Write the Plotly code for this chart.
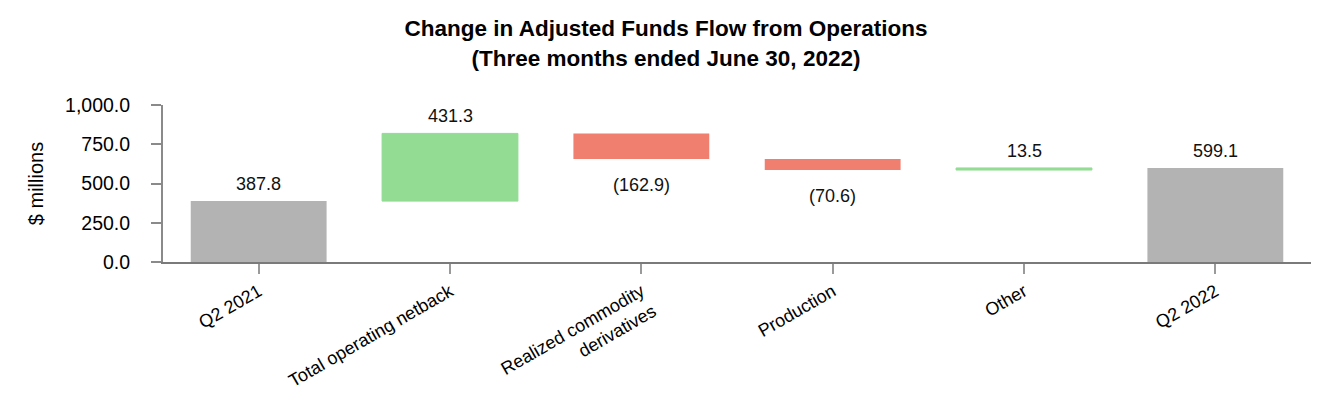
import plotly.graph_objects as go

categories = ["Q2 2021", "Total operating netback", "Realized commodity<br>derivatives",
              "Production", "Other", "Q2 2022"]
values = [387.8, 431.3, -162.9, -70.6, 13.5, 599.1]
measures = ["absolute", "relative", "relative", "relative", "relative", "total"]
y_ticks = [0, 250, 500, 750, 1000]

GRAY = "#b3b3b3"
GREEN = "#92dc94"
RED = "#f07f6f"
FONT = "Liberation Sans, Arial, sans-serif"


def fmt(v):
    return f"({abs(v):,.1f})" if v < 0 else f"{v:,.1f}"


fig = go.Figure(go.Waterfall(
    x=categories, y=values, measure=measures,
    increasing=dict(marker=dict(color=GREEN, line=dict(color=GREEN, width=1))),
    decreasing=dict(marker=dict(color=RED, line=dict(color=RED, width=0))),
    totals=dict(marker=dict(color=GRAY, line=dict(color=GRAY, width=0))),
    connector=dict(visible=False),
    hoverinfo="skip",
))

# labels
run = 0.0
for cat, v, m in zip(categories, values, measures):
    if m == "absolute":
        start, end = 0.0, v
        run = v
    elif m == "total":
        start, end = 0.0, run
    else:
        start, end = run, run + v
        run = run + v
    if v >= 0:
        fig.add_annotation(x=cat, y=max(start, end), text=fmt(v), showarrow=False,
                           yanchor="bottom", yshift=5,
                           font=dict(family=FONT, size=18, color="#111"))
    else:
        fig.add_annotation(x=cat, y=min(start, end), text=fmt(v), showarrow=False,
                           yanchor="top", yshift=-14,
                           font=dict(family=FONT, size=18, color="#111"))

fig.update_layout(
    width=1316, height=404,
    margin=dict(l=155, r=13, t=97, b=150),
    paper_bgcolor="white", plot_bgcolor="white",
    showlegend=False,
    waterfallgap=0.29,
    title=dict(text="<b>Change in Adjusted Funds Flow from Operations<br>(Three months ended June 30, 2022)</b>",
               x=0.5, xanchor="center", y=0.93, yanchor="top",
               font=dict(family=FONT, size=22.5, color="#000")),
    font=dict(family=FONT, color="#000"),
)
fig.update_yaxes(
    range=[0, 1000], tickvals=y_ticks, ticktext=[f"{t:,.1f}" for t in y_ticks],
    showgrid=False, zeroline=False, automargin=False,
    showline=True, linecolor="#8a8a8a", linewidth=2,
    ticks="outside", ticklen=10, tickcolor="#8a8a8a", tickwidth=2,
    ticklabelstandoff=17,
    tickfont=dict(family=FONT, size=19.5, color="#000"),
    title=dict(text="$ millions", font=dict(family=FONT, size=20, color="#000"), standoff=16),
)
fig.update_xaxes(
    showgrid=False, zeroline=False, automargin=False,
    showline=True, linecolor="#7a7a7a", linewidth=2,
    ticks="outside", ticklen=10, tickcolor="#9a9a9a", tickwidth=2,
    tickangle=-30,
    tickfont=dict(family=FONT, size=18, color="#000"),
)

fig.write_html("out.html")
